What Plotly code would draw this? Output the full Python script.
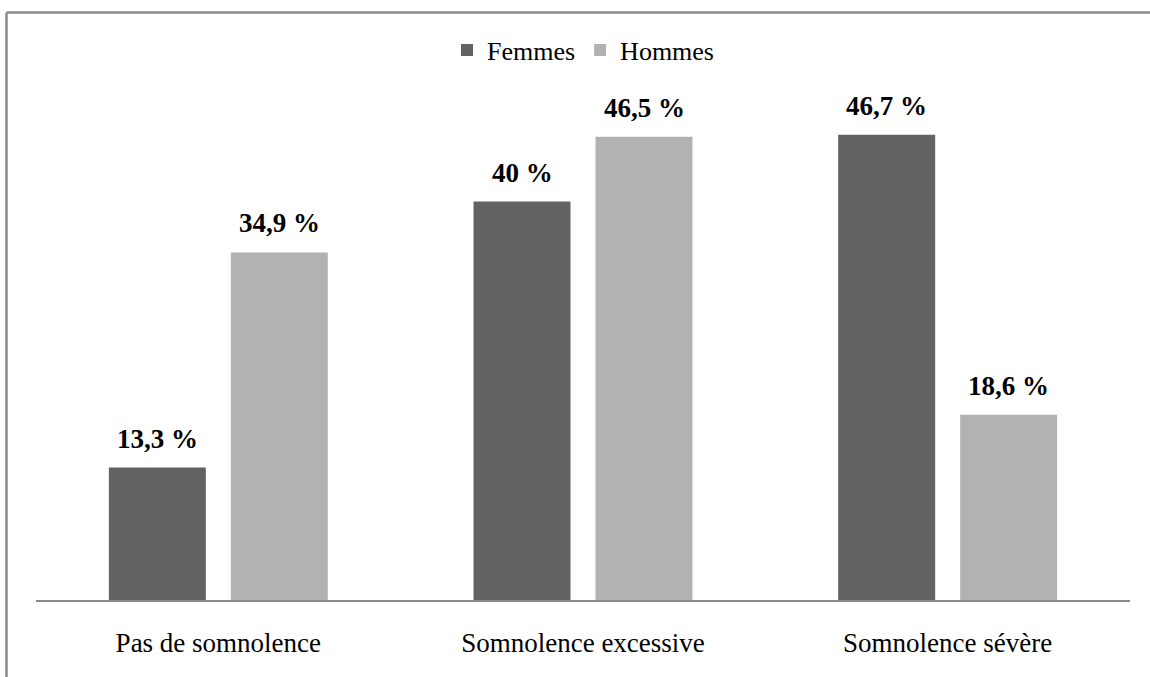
import plotly.graph_objects as go

categories = ["Pas de somnolence", "Somnolence excessive", "Somnolence sévère"]
femmes = [13.3, 40, 46.7]
hommes = [34.9, 46.5, 18.6]
series_names = ["Femmes", "Hommes"]
colors = ["#626262", "#b2b2b2"]

W, H = 1150, 677
ML, MR, MT, MB = 36, 20, 102, 77
plot_w = W - ML - MR
plot_h = H - MT - MB

FONT = "Liberation Serif"


def fmt(v):
    return f"{v:g}".replace(".", ",") + " %"


fig = go.Figure()
for name, vals, col in zip(series_names, [femmes, hommes], colors):
    fig.add_trace(go.Bar(
        x=categories, y=vals, name=name,
        marker=dict(color=col, line=dict(width=0)),
        hoverinfo="skip",
    ))

# value labels above each bar, offset to the bar's slot within its group
slot_px = 122
for i, (name, vals) in enumerate(zip(series_names, [femmes, hommes])):
    shift = (i - 0.5) * slot_px
    for c, v in zip(categories, vals):
        fig.add_annotation(
            x=c, y=v, text=f"<b>{fmt(v)}</b>", showarrow=False,
            xshift=shift, yshift=12, yanchor="bottom",
            font=dict(family=FONT, size=27, color="#000"),
        )

# outer frame: top and left edges
px_x = lambda p: (p - ML) / plot_w
px_y = lambda p: (H - MB - p) / plot_h
frame = dict(color="#8a8a8a", width=2.5)
fig.add_shape(type="line", xref="paper", yref="paper",
              x0=px_x(6.5), x1=px_x(1152), y0=px_y(12.5), y1=px_y(12.5), line=frame)
fig.add_shape(type="line", xref="paper", yref="paper",
              x0=px_x(6.5), x1=px_x(6.5), y0=px_y(12.5), y1=px_y(680), line=frame)

fig.update_layout(
    width=W, height=H,
    margin=dict(l=ML, r=MR, t=MT, b=MB, pad=0),
    paper_bgcolor="white", plot_bgcolor="white",
    barmode="group", bargap=0.331, bargroupgap=0.205,
    font=dict(family=FONT, size=26, color="#000"),
    showlegend=True,
    legend=dict(
        orientation="h", x=0.5, xanchor="center", y=px_y(50), yanchor="middle",
        font=dict(family=FONT, size=26, color="#000"),
        itemwidth=30, traceorder="normal",
    ),
    xaxis=dict(
        range=[-0.5, 2.5], showline=True, linecolor="#8a8a8a", linewidth=2,
        showgrid=False, zeroline=False, ticks="", ticklabelstandoff=18,
        tickfont=dict(family=FONT, size=27, color="#000"),
    ),
    yaxis=dict(range=[0, 50], visible=False, showgrid=False, zeroline=False),
)

fig.write_html("out.html")
